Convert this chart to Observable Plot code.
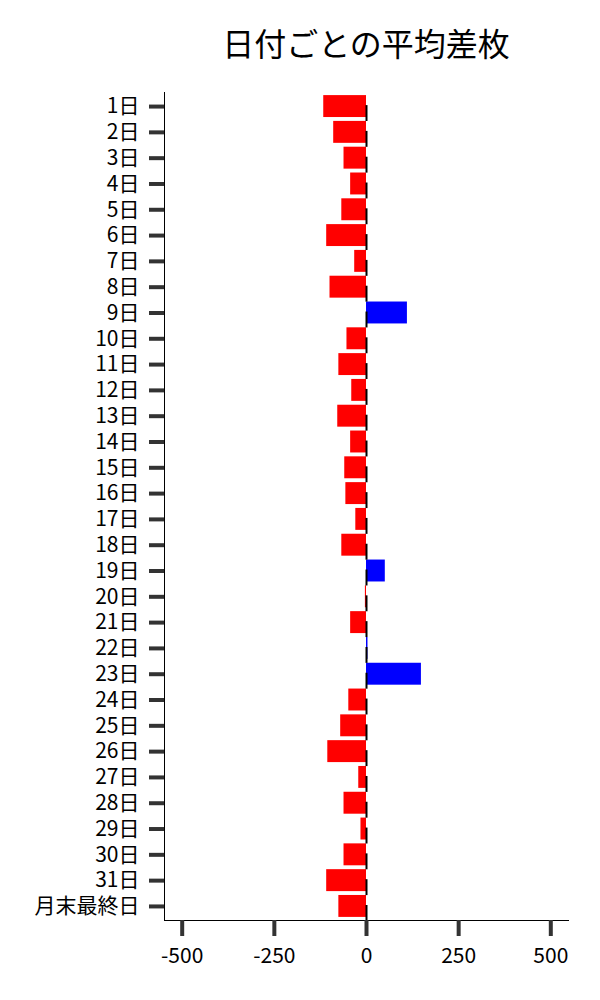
<!DOCTYPE html>
<html>
<head>
<meta charset="utf-8">
<script src="https://cdn.jsdelivr.net/npm/d3@7"></script>
<script src="https://cdn.jsdelivr.net/npm/@observablehq/plot@0.6"></script>
<style>
  body { margin: 0; background: #fff; font-family: "Noto Sans CJK JP", "Noto Sans", sans-serif; }
  #title { height: 80px; width: 600px; position: relative; }
  #title span { position: absolute; left: 366px; top: 42px; transform: translate(-50%, -50%); font-size: 32px; color: #000; white-space: nowrap; }
</style>
</head>
<body>
<div id="title"><span>日付ごとの平均差枚</span></div>
<div id="chart"></div>
<script>
const days = ["1日","2日","3日","4日","5日","6日","7日","8日","9日","10日","11日","12日","13日","14日","15日","16日","17日","18日","19日","20日","21日","22日","23日","24日","25日","26日","27日","28日","29日","30日","31日","月末最終日"];
const values = [-116,-89,-61,-43,-67,-108,-32,-99,111,-53,-75,-40,-78,-43,-59,-56,-29,-67,51,-3,-43,4,149,-48,-70,-105,-21,-61,-15,-61,-108,-75];
const xTicks = [-500,-250,0,250,500];

const data = days.map((d, i) => ({day: d, value: values[i]}));

const chart = Plot.plot({
  width: 600,
  height: 920,
  marginTop: 12,
  marginBottom: 80,
  marginLeft: 164,
  marginRight: 32,
  style: {fontFamily: "'Noto Sans CJK JP', 'Noto Sans', sans-serif", background: "#fff"},
  x: {domain: [-548, 548], ticks: xTicks},
  y: {domain: days, paddingInner: 0.15, paddingOuter: 0.12, round: false},
  marks: [
    Plot.barX(data, {x: "value", y: "day", fill: d => d.value >= 0 ? "#0000ff" : "#ff0000"}),
    Plot.tickX(data, {x: d => 0, y: "day", stroke: "#000", strokeWidth: 2, insetTop: 10, insetBottom: -4}),
    Plot.frame({anchor: "left", stroke: "#000", strokeWidth: 1}),
    Plot.frame({anchor: "bottom", stroke: "#000", strokeWidth: 1}),
    Plot.axisY({tickSize: 15, tickPadding: 10, stroke: "#333", strokeWidth: 4, fill: "#000", fontSize: 21, label: null}),
    Plot.axisX({ticks: xTicks, tickSize: 16, tickPadding: 12, stroke: "#333", strokeWidth: 4, fill: "#000", fontSize: 21, label: null, tickFormat: d => String(d)})
  ]
});
document.getElementById("chart").appendChild(chart);
</script>
</body>
</html>
